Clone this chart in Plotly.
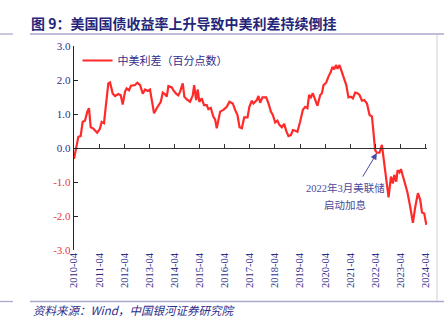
import plotly.graph_objects as go

dates = ["2010-04-01","2010-06-03","2010-07-07","2010-08-05","2010-09-08","2010-10-11","2010-11-05","2010-11-30",
"2011-01-07","2011-03-05","2011-04-14","2011-05-08","2011-06-11","2011-07-10","2011-08-13","2011-09-07","2011-10-16","2011-11-19",
"2012-01-06","2012-02-10","2012-03-09","2012-04-12","2012-05-06","2012-06-09","2012-07-08","2012-09-05","2012-10-08","2012-11-17","2012-12-26",
"2013-01-29","2013-03-08","2013-04-10","2013-05-05","2013-06-08","2013-07-17","2013-08-24","2013-09-14","2013-10-13","2013-11-16","2013-12-10",
"2014-01-03","2014-02-22","2014-03-15","2014-04-24","2014-05-27","2014-06-21","2014-07-30","2014-08-23","2014-09-27","2014-11-14","2014-12-23",
"2015-01-12","2015-02-10","2015-03-05","2015-03-28","2015-05-02","2015-06-05","2015-07-14","2015-08-07","2015-09-11","2015-10-19","2015-11-13","2015-12-07","2015-12-31",
"2016-01-25","2016-03-12","2016-05-01","2016-06-08","2016-07-27","2016-08-30","2016-10-03","2016-11-02","2016-12-06",
"2017-01-09","2017-02-26","2017-03-25","2017-04-30","2017-05-23","2017-07-11","2017-08-04","2017-08-29","2017-10-01","2017-11-24","2017-12-28",
"2018-02-01","2018-03-01","2018-04-04","2018-05-07","2018-06-05","2018-07-10","2018-08-13","2018-09-11","2018-10-14","2018-11-19","2018-12-18",
"2019-01-21","2019-02-22","2019-04-02","2019-05-11","2019-06-14","2019-07-17","2019-08-11","2019-09-05","2019-10-04","2019-11-07","2019-12-10",
"2020-01-19","2020-02-13","2020-03-07","2020-04-15","2020-05-18","2020-06-22","2020-07-15","2020-08-10","2020-09-04","2020-09-27","2020-10-26","2020-11-16","2020-12-24",
"2021-02-01","2021-03-05","2021-04-09","2021-05-08","2021-06-11","2021-07-14","2021-08-13","2021-09-17","2021-10-20","2021-11-29",
"2022-01-06","2022-02-10","2022-03-04","2022-03-28","2022-04-22","2022-05-30","2022-07-04","2022-07-27","2022-09-05","2022-10-09","2022-11-13","2022-12-12","2022-12-31",
"2023-01-29","2023-02-17","2023-03-17","2023-04-07","2023-05-05","2023-06-08","2023-07-11","2023-08-20","2023-09-28","2023-11-01","2023-12-10",
"2024-01-13","2024-02-07","2024-03-11","2024-04-10"]

spread = [-0.32,0.33,0.35,0.77,0.80,1.07,1.17,0.61,
0.57,0.45,0.57,0.77,0.73,1.26,1.90,1.93,1.60,1.53,
1.59,1.55,1.28,1.66,1.75,1.70,1.83,1.85,1.92,1.85,1.60,
1.72,1.68,1.72,1.36,1.02,1.17,1.31,1.36,1.63,1.58,1.51,
1.82,1.78,1.70,1.60,1.55,1.65,1.90,1.51,1.43,1.36,1.55,
1.85,1.41,1.72,1.36,1.46,1.26,1.26,1.14,1.18,0.92,0.84,0.58,0.82,
1.07,1.12,1.21,1.36,1.31,1.12,0.97,0.61,0.58,
0.90,0.90,1.21,1.39,1.31,1.41,1.53,1.33,1.49,1.49,1.31,
1.07,0.97,0.75,0.80,0.68,0.61,0.71,0.51,0.35,0.38,0.53,
0.51,0.48,0.77,1.12,1.21,1.17,1.56,1.49,1.61,1.41,1.24,
1.56,1.61,1.85,1.92,2.10,2.24,2.39,2.31,2.44,2.33,2.44,2.31,2.10,
1.85,1.49,1.51,1.46,1.63,1.61,1.56,1.39,1.41,1.31,
0.97,0.92,0.43,-0.06,-0.14,-0.14,0.09,-0.25,-0.94,-1.45,-0.84,-1.04,-0.79,
-0.99,-0.65,-0.72,-0.62,-0.82,-1.14,-1.31,-1.73,-2.20,-1.73,-1.33,
-1.53,-1.90,-1.93,-2.26]

x_ticks = ["2010-04-01","2011-04-01","2012-04-01","2013-04-01","2014-04-01","2015-04-01","2016-04-01",
           "2017-04-01","2018-04-01","2019-04-01","2020-04-01","2021-04-01","2022-04-01","2023-04-01","2024-04-01"]
x_tick_labels = ["2010-04","2011-04","2012-04","2013-04","2014-04","2015-04","2016-04",
                 "2017-04","2018-04","2019-04","2020-04","2021-04","2022-04","2023-04","2024-04"]
y_ticks = [3, 2, 1, 0, -1, -2, -3]
y_tick_labels = ["3.0", "2.0", "1.0", "0.0", "-1.0", "-2.0", "-3.0"]

series_name = "中美利差（百分点数）"
title_text = "图 9：美国国债收益率上升导致中美利差持续倒挂"
source_text = "资料来源：Wind，中国银河证券研究院"
note_line1 = "2022年3月美联储"
note_line2 = "启动加息"
note_date, note_value = "2022-04-22", -0.15
note_text_date = "2021-01-15"
note_text_values = [-1.17, -1.67]

NAVY = "#2e2e8a"
RED = "#ff2a2a"
XRANGE = ["2010-04-01", "2024-04-20"]
SERIF = "Liberation Serif, Noto Sans CJK SC"

ticktext_colored = [
    f'<span style="color:{"#e8383d" if v < 0 else NAVY}">{t}</span>'
    for v, t in zip(y_ticks, y_tick_labels)
]

fig = go.Figure()
fig.add_trace(go.Scatter(x=dates, y=spread, mode="lines", name=series_name,
                         line=dict(color=RED, width=2.2), showlegend=True))

fig.update_layout(
    width=444, height=329,
    margin=dict(l=74, r=17, t=46, b=79),
    paper_bgcolor="white", plot_bgcolor="white",
    showlegend=True,
    legend=dict(x=0.01, y=1.0, xanchor="left", yanchor="top",
                bgcolor="rgba(0,0,0,0)",
                font=dict(family="Noto Sans CJK SC", size=11, color=NAVY)),
    title=dict(text=f"<b>{title_text}</b>", x=31/444, xanchor="left",
               y=1-24/329, yanchor="middle", xref="container", yref="container",
               font=dict(family="Noto Sans CJK SC", size=14, color="#25257a")),
    xaxis=dict(type="date", range=XRANGE, tickmode="array", tickvals=x_ticks,
               ticktext=x_tick_labels, tickangle=-90, showgrid=False, zeroline=False,
               showline=False, ticks="",
               tickfont=dict(family=SERIF, size=10.5, color=NAVY)),
    xaxis2=dict(type="date", range=XRANGE, overlaying="x", anchor="free", position=0.5,
                side="bottom", tickmode="array", tickvals=x_ticks, showticklabels=False,
                ticks="inside", ticklen=4, tickwidth=1.2, tickcolor="#333333",
                showline=True, linecolor="#333333", linewidth=1.2, showgrid=False, zeroline=False),
    yaxis=dict(range=[-3, 3], tickmode="array", tickvals=y_ticks, ticktext=ticktext_colored,
               showgrid=False, zeroline=False, showline=True, linecolor="#222222", linewidth=1.4,
               ticks="inside", ticklen=4, tickcolor="#222222", tickwidth=1.4,
               tickfont=dict(family=SERIF, size=11, color=NAVY)),
)

# invisible trace to anchor the zero-level axis
fig.add_trace(go.Scatter(x=[dates[0]], y=[0], xaxis="x2", mode="markers",
                         marker=dict(opacity=0), showlegend=False, hoverinfo="skip"))

# decorative page rules
def px_x(px):
    return (px - 74) / 353
def px_y(py):
    return (250 - py) / 204

rule_color = "#a9a9cf"
for py in (34, 301.5):
    fig.add_shape(type="line", xref="paper", yref="paper", x0=px_x(0), x1=px_x(13),
                  y0=px_y(py), y1=px_y(py), line=dict(color=rule_color, width=1.3))
    fig.add_shape(type="line", xref="paper", yref="paper", x0=px_x(30), x1=px_x(444),
                  y0=px_y(py), y1=px_y(py), line=dict(color=rule_color, width=1.3))
fig.add_shape(type="line", xref="paper", yref="paper", x0=px_x(437), x1=px_x(437),
              y0=px_y(35), y1=px_y(301), line=dict(color="#d0d0d0", width=1))

fig.add_annotation(text=source_text, xref="paper", yref="paper", x=px_x(31), y=px_y(310),
                   xanchor="left", yanchor="middle", showarrow=False,
                   font=dict(family="Noto Sans CJK SC", size=11.5, color=NAVY, style="italic"))

# arrow pointing at the March 2022 crossing
fig.add_annotation(text="", x=note_date, y=note_value, xref="x", yref="y",
                   showarrow=True, arrowhead=2, arrowsize=1.3, arrowwidth=1, arrowcolor="#4a4aa0",
                   ax=-15, ay=25)
for txt, yv in zip([note_line1, note_line2], note_text_values):
    fig.add_annotation(text=txt, x=note_text_date, y=yv, xref="x", yref="y",
                       showarrow=False, xanchor="center", yanchor="middle",
                       font=dict(family=SERIF, size=10.5, color="#4a4a9a"))

fig.write_html("out.html")
